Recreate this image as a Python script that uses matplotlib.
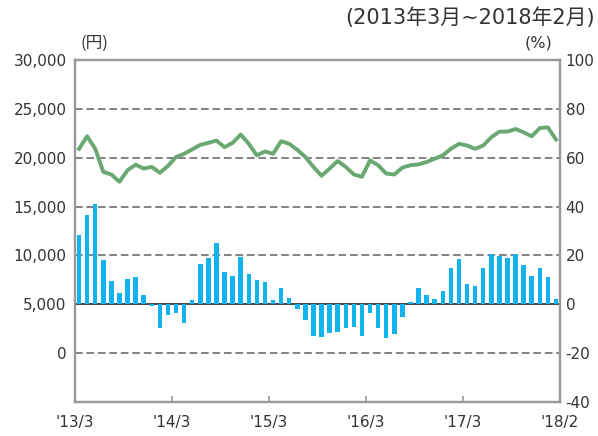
import numpy as np
import matplotlib
matplotlib.use("Agg")
import matplotlib.pyplot as plt

# Monthly data, 2013/3 - 2018/2
spend = [20910, 22195, 20910, 18550, 18280, 17540, 18720, 19290, 18890, 19060,
         18450, 19160, 20070, 20400, 20850, 21320, 21520, 21760, 21080, 21520,
         22370, 21420, 20240, 20640, 20400, 21690, 21420, 20810, 20070, 19060,
         18150, 18890, 19660, 19060, 18280, 18050, 19730, 19230, 18380, 18280,
         18990, 19230, 19320, 19560, 19900, 20240, 20910, 21420, 21250, 20910,
         21250, 22090, 22670, 22670, 22940, 22600, 22190, 23040, 23100, 21860]
change = [28.3, 36.4, 40.9, 18.2, 9.4, 4.7, 10.5, 11.1, 3.6, -0.9,
          -9.9, -4.5, -3.4, -7.8, 1.8, 16.3, 18.9, 25.2, 13.1, 11.7,
          19.3, 12.6, 9.9, 9.2, 1.6, 6.7, 2.7, -2.0, -6.5, -12.8,
          -13.5, -11.7, -11.5, -9.9, -9.2, -13.1, -3.4, -9.9, -13.6, -12.3,
          -5.4, 0.9, 6.7, 3.6, 2.3, 5.4, 14.8, 18.6, 8.5, 7.4,
          14.8, 20.5, 19.6, 18.9, 20.5, 16.2, 11.7, 14.8, 11.1, 2.0]
tick_pos = [0, 12, 24, 36, 48, 60]
tick_labels = ["'13/3", "'14/3", "'15/3", "'16/3", "'17/3", "'18/2"]

plt.rcParams['font.family'] = ['DejaVu Sans', 'Noto Sans CJK JP']
plt.rcParams['axes.unicode_minus'] = False

x = np.arange(len(spend)) + 0.5
frame_col = '#999999'
txt_col = '#333333'

fig = plt.figure(figsize=(5.98, 4.36), dpi=100)
ax = fig.add_axes([75/598, 1 - 402/436, (560 - 75)/598, (402 - 60)/436])
ax2 = ax.twinx()

# grid lines (left axis units)
for v in [0, 10000, 15000, 20000, 25000]:
    ax.axhline(v, color='#606060', lw=1.1, ls=(0, (5, 2.5)), zorder=0)
ax.axhline(5000, color='#444444', lw=1.4, zorder=3)

ax2.bar(x, change, width=0.55, color='#12b4ef', zorder=2)
ax.plot(x, spend, color='#6aa872', lw=2.8, zorder=4, solid_joinstyle='round')

ax.set_xlim(0, 60)
ax.set_ylim(-5000, 30000)
ax.set_yticks(range(0, 30001, 5000))
ax.set_yticklabels([f"{v:,}" for v in range(0, 30001, 5000)])
ax2.set_ylim(-40, 100)
ax2.set_yticks(range(-40, 101, 20))

ax.set_xticks(tick_pos)
ax.set_xticklabels(tick_labels)
ax.tick_params(axis='x', direction='in', length=4, width=1.2, color=frame_col,
               pad=9, labelsize=11, labelcolor=txt_col)
ax.tick_params(axis='y', length=0, pad=6, labelsize=11, labelcolor=txt_col)
ax2.tick_params(axis='y', length=0, pad=4, labelsize=11, labelcolor=txt_col)

for a in (ax, ax2):
    for s in a.spines.values():
        s.set_color(frame_col)
        s.set_linewidth(1.6)

fig.text(94/598, 1 - 43/436, '(円)', ha='center', va='center', fontsize=12,
         color=txt_col, family=['Noto Sans CJK JP', 'DejaVu Sans'])
fig.text(538/598, 1 - 43/436, '(%)', ha='center', va='center', fontsize=11.5,
         color=txt_col)
fig.text(595/598, 1 - 18/436, '(2013年3月~2018年2月)', ha='right', va='center',
         fontsize=15, color=txt_col)

fig.savefig('out.png', dpi=100)
